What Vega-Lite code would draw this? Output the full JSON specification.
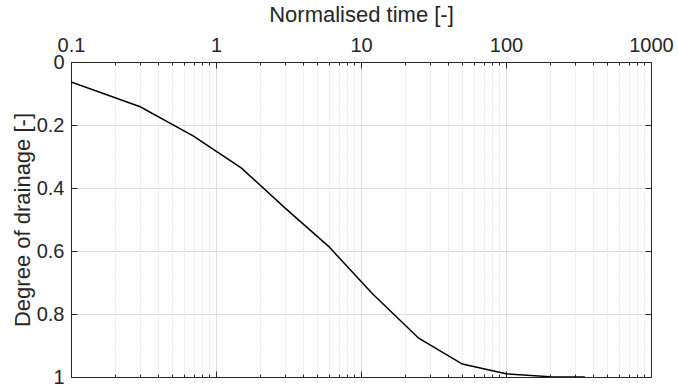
{
  "$schema": "https://vega.github.io/schema/vega-lite/v6.json",
  "width": 580,
  "height": 315,
  "autosize": {"type": "none"},
  "padding": {"left": 71, "top": 62, "right": 27, "bottom": 14},
  "background": "white",
  "config": {
    "font": "Liberation Sans",
    "view": {"stroke": null},
    "axis": {
      "domainColor": "#262626",
      "domainWidth": 1,
      "tickColor": "#262626",
      "tickWidth": 1,
      "labelColor": "#262626",
      "titleColor": "#262626",
      "labelFont": "Liberation Sans",
      "titleFont": "Liberation Sans",
      "labelFontSize": 20,
      "titleFontSize": 22,
      "titleFontWeight": "normal",
      "labelFlush": false,
      "labelOverlap": false,
      "labelBound": false
    }
  },
  "data": {
    "values": [
      {"t": 0.1, "D": 0.063},
      {"t": 0.3, "D": 0.142},
      {"t": 0.7, "D": 0.235},
      {"t": 1.5, "D": 0.337},
      {"t": 3, "D": 0.464},
      {"t": 6, "D": 0.586},
      {"t": 12, "D": 0.736},
      {"t": 25, "D": 0.877},
      {"t": 50, "D": 0.959},
      {"t": 100, "D": 0.99},
      {"t": 200, "D": 0.999},
      {"t": 350, "D": 1.0}
    ]
  },
  "layer": [
    {
      "mark": {"type": "line", "color": "black", "strokeWidth": 1.5, "clip": true},
      "encoding": {
        "x": {
          "field": "t",
          "type": "quantitative",
          "scale": {"type": "log", "domain": [0.1, 1000], "nice": false},
          "axis": {
            "orient": "top",
            "title": "Normalised time [-]",
            "titlePadding": 6,
            "values": [0.1, 0.2, 0.3, 0.4, 0.5, 0.6, 0.7, 0.8, 0.9, 1, 2, 3, 4, 5, 6, 7, 8, 9, 10, 20, 30, 40, 50, 60, 70, 80, 90, 100, 200, 300, 400, 500, 600, 700, 800, 900, 1000],
            "format": "~g",
            "labelExpr": "indexof([0.1, 1, 10, 100, 1000], datum.value) >= 0 ? datum.label : ''",
            "tickSize": {"condition": {"test": "indexof([0.1, 1, 10, 100, 1000], datum.value) >= 0", "value": -6}, "value": -3},
            "labelPadding": 13,
            "grid": true,
            "gridColor": {"condition": {"test": "indexof([0.1, 1, 10, 100, 1000], datum.value) >= 0", "value": "#dedede"}, "value": "#d2d2d2"},
            "gridDash": {"condition": {"test": "indexof([0.1, 1, 10, 100, 1000], datum.value) >= 0", "value": []}, "value": [1, 2]},
            "gridWidth": 1
          }
        },
        "y": {
          "field": "D",
          "type": "quantitative",
          "scale": {"domain": [0, 1], "reverse": true, "nice": false, "zero": false},
          "axis": {
            "orient": "left",
            "title": "Degree of drainage [-]",
            "titlePadding": 2,
            "values": [0, 0.2, 0.4, 0.6, 0.8, 1],
            "format": "~g",
            "tickSize": -6,
            "labelPadding": 13,
            "grid": true,
            "gridColor": "#dedede",
            "gridWidth": 1
          }
        }
      }
    },
    {
      "mark": {"type": "line", "strokeOpacity": 0},
      "encoding": {
        "x": {
          "field": "t",
          "type": "quantitative",
          "scale": {"type": "log", "domain": [0.1, 1000], "nice": false},
          "axis": {
            "orient": "bottom",
            "title": null,
            "labels": false,
            "grid": false,
            "values": [0.1, 0.2, 0.3, 0.4, 0.5, 0.6, 0.7, 0.8, 0.9, 1, 2, 3, 4, 5, 6, 7, 8, 9, 10, 20, 30, 40, 50, 60, 70, 80, 90, 100, 200, 300, 400, 500, 600, 700, 800, 900, 1000],
            "tickSize": {"condition": {"test": "indexof([0.1, 1, 10, 100, 1000], datum.value) >= 0", "value": -6}, "value": -3}
          }
        },
        "y": {
          "field": "D",
          "type": "quantitative",
          "scale": {"domain": [0, 1], "reverse": true, "nice": false, "zero": false},
          "axis": {
            "orient": "right",
            "title": null,
            "labels": false,
            "grid": false,
            "values": [0, 0.2, 0.4, 0.6, 0.8, 1],
            "tickSize": -6
          }
        }
      }
    }
  ],
  "resolve": {"axis": {"x": "independent", "y": "independent"}}
}
